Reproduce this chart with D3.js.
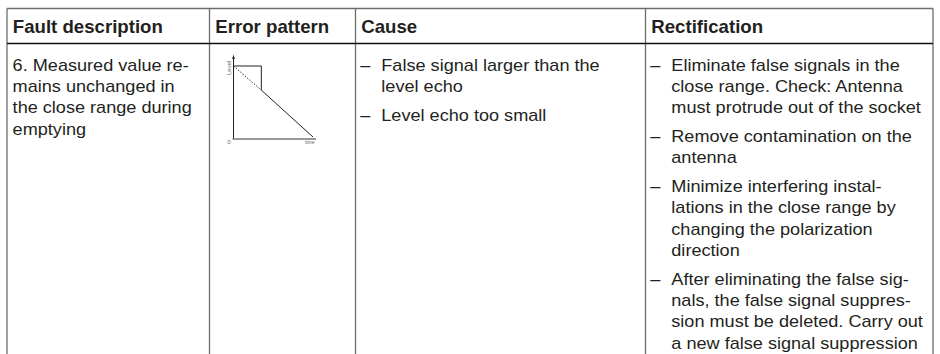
<!DOCTYPE html>
<html><head><meta charset="utf-8">
<script src="https://cdn.jsdelivr.net/npm/d3@7"></script>
<style>html,body{margin:0;padding:0;background:#fff;}svg{display:block;}</style>
</head><body>
<svg id="c" width="940" height="354"></svg>
<script>
const headers = ["Fault description", "Error pattern", "Cause", "Rectification"];
const faultLines = ["6. Measured value re-", "mains unchanged in", "the close range during", "emptying"];
const causeItems = [["False signal larger than the", "level echo"], ["Level echo too small"]];
const rectItems = [
  ["Eliminate false signals in the", "close range. Check: Antenna", "must protrude out of the socket"],
  ["Remove contamination on the", "antenna"],
  ["Minimize interfering instal-", "lations in the close range by", "changing the polarization", "direction"],
  ["After eliminating the false sig-", "nals, the false signal suppres-", "sion must be deleted. Carry out", "a new false signal suppression"]
];
// mini chart data (time, level), normalised
const measuredTime = [0, 0.35, 0.35, 1];
const measuredLevel = [1, 1, 0.66, 0];
const trueTime = [0, 0.35];
const trueLevel = [1, 0.66];

const svg = d3.select("#c");
const font = "'Liberation Sans', Arial, Helvetica, sans-serif";
const colX = [7, 209.5, 355.5, 645.5, 933];
const tableTop = 8.5, headBottom = 43.5, tableBottom = 360;
const txt = "#231f20";

// grid lines
const g = svg.append("g").attr("fill", "none");
g.append("line").attr("x1", colX[0]).attr("x2", colX[4]).attr("y1", tableTop).attr("y2", tableTop).attr("stroke", "#6d6d6d").attr("stroke-width", 1.3);
colX.forEach(x => g.append("line").attr("x1", x).attr("x2", x).attr("y1", tableTop).attr("y2", tableBottom).attr("stroke", "#6d6d6d").attr("stroke-width", 1.3));
g.append("line").attr("x1", colX[0]).attr("x2", colX[4]).attr("y1", headBottom).attr("y2", headBottom).attr("stroke", "#111").attr("stroke-width", 1.4);

function addText(str, x, y, size, sx, bold) {
  svg.append("text").attr("transform", `translate(${x},${y}) scale(${sx},1)`)
    .attr("font-family", font).attr("font-size", size).attr("font-weight", bold ? "bold" : "normal")
    .attr("fill", txt).text(str);
}

// headers
headers.forEach((h, i) => addText(h, colX[i] + 5.8, 33.2, 17.5, 1.065, true));

const lh = 21.3, gap = 7.4, bodySize = 16.4, sx = 1.105, firstBase = 70.8;
// fault description
faultLines.forEach((l, i) => addText(l, colX[0] + 5.6, firstBase + i * lh, bodySize, sx, false));

function bullets(items, x0) {
  let yy = firstBase;
  items.forEach(lines => {
    addText("–", x0 + 4.8, yy, bodySize, sx, false);
    lines.forEach((l, i) => addText(l, x0 + 25.8, yy + i * lh, bodySize, sx, false));
    yy += lines.length * lh + gap;
  });
}
bullets(causeItems, colX[2]);
bullets(rectItems, colX[3]);

// mini chart
const x = d3.scaleLinear().domain([0, 1]).range([233.5, 313]);
const y = d3.scaleLinear().domain([0, 1]).range([137, 66]);
const mc = svg.append("g");
mc.append("line").attr("x1", x(0)).attr("x2", x(0)).attr("y1", y(0) + 2).attr("y2", 57).attr("stroke", "#222").attr("stroke-width", 1);
mc.append("path").attr("d", `M${x(0) - 1.4},59 L${x(0)},54.5 L${x(0) + 1.4},59 Z`).attr("fill", "#222");
mc.append("line").attr("x1", x(0) - 1).attr("x2", x(1) + 3).attr("y1", y(0) + 2).attr("y2", y(0) + 2).attr("stroke", "#777").attr("stroke-width", 1.6);
const ln = d3.line().x(d => x(d[0])).y(d => y(d[1]));
mc.append("path").attr("d", ln(d3.zip(measuredTime, measuredLevel))).attr("fill", "none").attr("stroke", "#222").attr("stroke-width", 1);
mc.append("path").attr("d", ln(d3.zip(trueTime, trueLevel))).attr("fill", "none").attr("stroke", "#333").attr("stroke-width", 1).attr("stroke-dasharray", "1.5,1.5");
mc.append("text").attr("transform", `translate(${x(0) - 3},${y(1) + 9}) rotate(-90)`).attr("font-family", font).attr("font-size", 6).attr("fill", "#666").text("Level");
mc.append("text").attr("x", x(0) - 6).attr("y", y(0) + 6.5).attr("font-family", font).attr("font-size", 5.5).attr("fill", "#666").text("0");
mc.append("text").attr("x", x(1) - 8).attr("y", y(0) + 6.5).attr("font-family", font).attr("font-size", 5).attr("fill", "#666").text("time");
</script>
</body></html>
